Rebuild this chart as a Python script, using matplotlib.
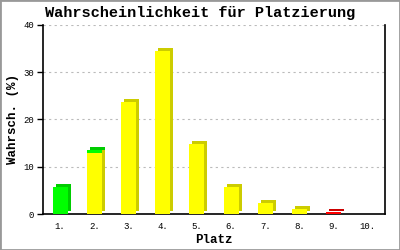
import matplotlib
matplotlib.use("Agg")
import matplotlib.pyplot as plt
import matplotlib.transforms as mtransforms
from matplotlib.patches import Rectangle

places = ["1.", "2.", "3.", "4.", "5.", "6.", "7.", "8.", "9.", "10."]
yellow_vals = [0, 12.9, 23.8, 34.6, 14.9, 5.7, 2.3, 1.0, 0, 0]
green_vals = [5.8, 0.6, 0, 0, 0, 0, 0, 0, 0, 0]
red_vals = [0, 0, 0, 0, 0, 0, 0, 0, 0.4, 0]
y_ticks = [0, 10, 20, 30, 40]

fig = plt.figure(figsize=(4, 2.5), dpi=100)
fig.patch.set_facecolor("white")
fig.patches.append(Rectangle((0, 0), 1, 1, transform=fig.transFigure,
                             fill=False, edgecolor="#999999", linewidth=2))
ax = fig.add_axes([0.1075, 0.144, 0.855, 0.756])

mono = "Liberation Mono"
back = mtransforms.offset_copy(ax.transData, fig=fig, x=3, y=3, units="dots")

x = list(range(len(places)))
w = 0.44
series = [(yellow_vals, "#ffff00", "#cccc00"),
          (green_vals, "#00ff00", "#00cc00"),
          (red_vals, "#ff0000", "#cc0000")]

for i in x:
    bottom = 0
    for vals, front_c, back_c in series:
        v = vals[i]
        if v <= 0:
            continue
        ax.bar(i, v, w, bottom=bottom, color=back_c, transform=back, zorder=3, linewidth=0)
        ax.bar(i, v, w, bottom=bottom, color=front_c, zorder=4, linewidth=0)
        bottom += v

ax.set_xlim(-0.5, len(places) - 0.5)
ax.set_ylim(0, 40)
ax.set_yticks(y_ticks)
ax.set_yticklabels([str(t) for t in y_ticks], fontfamily=mono, fontsize=6.5)
ax.set_xticks(x)
ax.set_xticklabels(places, fontfamily=mono, fontsize=6.5)
ax.tick_params(axis="x", length=0, pad=6)
ax.tick_params(axis="y", length=4.5, width=1, pad=2)
ax.grid(axis="y", linestyle=(0, (2, 3)), color="#bbbbbb", linewidth=0.8, zorder=0)
ax.set_axisbelow(True)
for s in ["left", "bottom", "right"]:
    ax.spines[s].set_color("black")
    ax.spines[s].set_linewidth(1.2)
ax.spines["top"].set_visible(False)

fig.text(0.5, 0.948, "Wahrscheinlichkeit für Platzierung", fontfamily=mono,
         fontweight="bold", fontsize=11, ha="center", va="center")
ax.set_xlabel("Platz", fontfamily=mono, fontweight="bold", fontsize=9, labelpad=2)
ax.set_ylabel("Wahrsch. (%)", fontfamily=mono, fontweight="bold", fontsize=9, labelpad=3)

fig.savefig("out.png", dpi=100)
